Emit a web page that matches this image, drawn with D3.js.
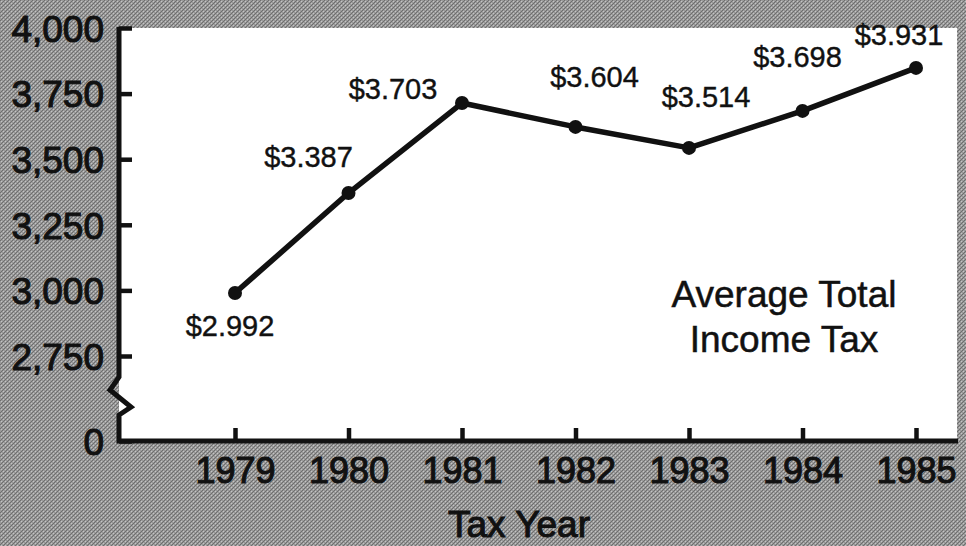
<!DOCTYPE html>
<html>
<head>
<meta charset="utf-8">
<script src="https://cdn.jsdelivr.net/npm/d3@7"></script>
<style>
  html, body { margin: 0; padding: 0; background: #999; }
  svg { display: block; }
  text { font-family: "Liberation Sans", Arial, Helvetica, sans-serif; fill: #111; }
</style>
</head>
<body>
<svg id="chart" width="966" height="546"></svg>
<script>
// ---- data ----
const years = [1979, 1980, 1981, 1982, 1983, 1984, 1985];
// plotted positions (thousands of dollars)
const taxValues = [2990, 3371, 3714, 3623, 3543, 3684, 3848];
// printed value labels
const valueLabels = ["$2.992", "$3.387", "$3.703", "$3.604", "$3.514", "$3.698", "$3.931"];
const yTicks = [0, 2750, 3000, 3250, 3500, 3750, 4000];
const xTitle = "Tax Year";
const seriesTitle = ["Average Total", "Income Tax"];

// ---- layout ----
const W = 966, H = 546;
const axisX = 119, axisY = 441, rightX = 957, topY = 28;
const svg = d3.select("#chart");

// halftone-like background
const defs = svg.append("defs");
const pat = defs.append("pattern").attr("id", "halftone")
  .attr("width", 4).attr("height", 4).attr("patternUnits", "userSpaceOnUse");
pat.append("rect").attr("width", 4).attr("height", 4).attr("fill", "#9a9a9a");
[[0,0],[2,2],[1,3],[3,1]].forEach(([px, py]) =>
  pat.append("rect").attr("x", px).attr("y", py).attr("width", 1).attr("height", 1).attr("fill", "#6e6e6e"));
[[1,1],[3,3]].forEach(([px, py]) =>
  pat.append("rect").attr("x", px).attr("y", py).attr("width", 1).attr("height", 1).attr("fill", "#c4c4c4"));
svg.append("rect").attr("width", W).attr("height", H).attr("fill", "url(#halftone)");

// white plot panel
svg.append("rect").attr("x", axisX).attr("y", topY)
  .attr("width", rightX - axisX).attr("height", axisY - topY).attr("fill", "#fff");

// scales (broken axis: 0 sits below the break)
const y = d3.scaleLinear().domain([0, 2750, 4000]).range([axisY, 356, topY]);
const x = d3.scaleLinear().domain([1979, 1985]).range([235, 916]);

// y axis ticks + labels
const yAxis = d3.axisLeft(y).tickValues(yTicks).tickFormat(d3.format(","))
  .tickSizeInner(-13).tickSizeOuter(0).tickPadding(15);
const gy = svg.append("g").attr("transform", `translate(${axisX},0)`).call(yAxis);
gy.select(".domain").remove();
gy.selectAll(".tick line").attr("stroke", "#111").attr("stroke-width", 4.5);
gy.selectAll(".tick text").attr("font-size", 37).attr("fill", "#111")
  .attr("stroke", "#111").attr("stroke-width", 1.1)
  .attr("font-family", "Liberation Sans, Arial, sans-serif").attr("dy", "0.36em");

// x axis ticks + labels
const xAxis = d3.axisBottom(x).tickValues(years).tickFormat(d3.format("d"))
  .tickSizeInner(-13).tickSizeOuter(0).tickPadding(16);
const gx = svg.append("g").attr("transform", `translate(0,${axisY})`).call(xAxis);
gx.select(".domain").remove();
gx.selectAll(".tick line").attr("stroke", "#111").attr("stroke-width", 4.5);
gx.selectAll(".tick text").attr("font-size", 36).attr("fill", "#111")
  .attr("stroke", "#111").attr("stroke-width", 1.1)
  .attr("font-family", "Liberation Sans, Arial, sans-serif");

// axis lines with break zigzag on the y axis
const yPath = d3.path();
yPath.moveTo(axisX, topY - 1);
yPath.lineTo(axisX, 377);
yPath.lineTo(axisX - 9, 390);
yPath.lineTo(axisX + 12, 407);
yPath.lineTo(axisX, 415);
yPath.lineTo(axisX, axisY);
yPath.lineTo(rightX + 1, axisY);
svg.append("path").attr("d", yPath.toString()).attr("fill", "none")
  .attr("stroke", "#111").attr("stroke-width", 5).attr("stroke-linejoin", "miter");

// line + markers
const pts = years.map((yr, i) => ({ yr, v: taxValues[i], label: valueLabels[i] }));
const line = d3.line().x(d => x(d.yr)).y(d => y(d.v));
svg.append("path").datum(pts).attr("d", line).attr("fill", "none")
  .attr("stroke", "#111").attr("stroke-width", 5.5).attr("stroke-linejoin", "round");
svg.selectAll("circle.pt").data(pts).join("circle").attr("class", "pt")
  .attr("cx", d => x(d.yr)).attr("cy", d => y(d.v)).attr("r", 7).attr("fill", "#111");

// value labels (placement offsets in px from each point)
const labelOffsets = [[-5, 43], [-40, -26], [-69, -4], [19, -40], [17, -41], [-5, -44], [-17, -23]];
svg.selectAll("text.val").data(pts).join("text").attr("class", "val")
  .attr("x", (d, i) => x(d.yr) + labelOffsets[i][0])
  .attr("y", (d, i) => y(d.v) + labelOffsets[i][1])
  .attr("text-anchor", "middle").attr("font-size", 29)
  .attr("stroke", "#111").attr("stroke-width", 0.4)
  .text(d => d.label);

// series title inside panel
svg.selectAll("text.title").data(seriesTitle).join("text").attr("class", "title")
  .attr("x", 784).attr("y", (d, i) => 307 + i * 45)
  .attr("text-anchor", "middle").attr("font-size", 37)
  .attr("stroke", "#111").attr("stroke-width", 0.5).text(d => d);

// x axis title
svg.append("text").attr("x", 519).attr("y", 537).attr("text-anchor", "middle")
  .attr("font-size", 37).attr("stroke", "#111").attr("stroke-width", 1.1).text(xTitle);
</script>
</body>
</html>
